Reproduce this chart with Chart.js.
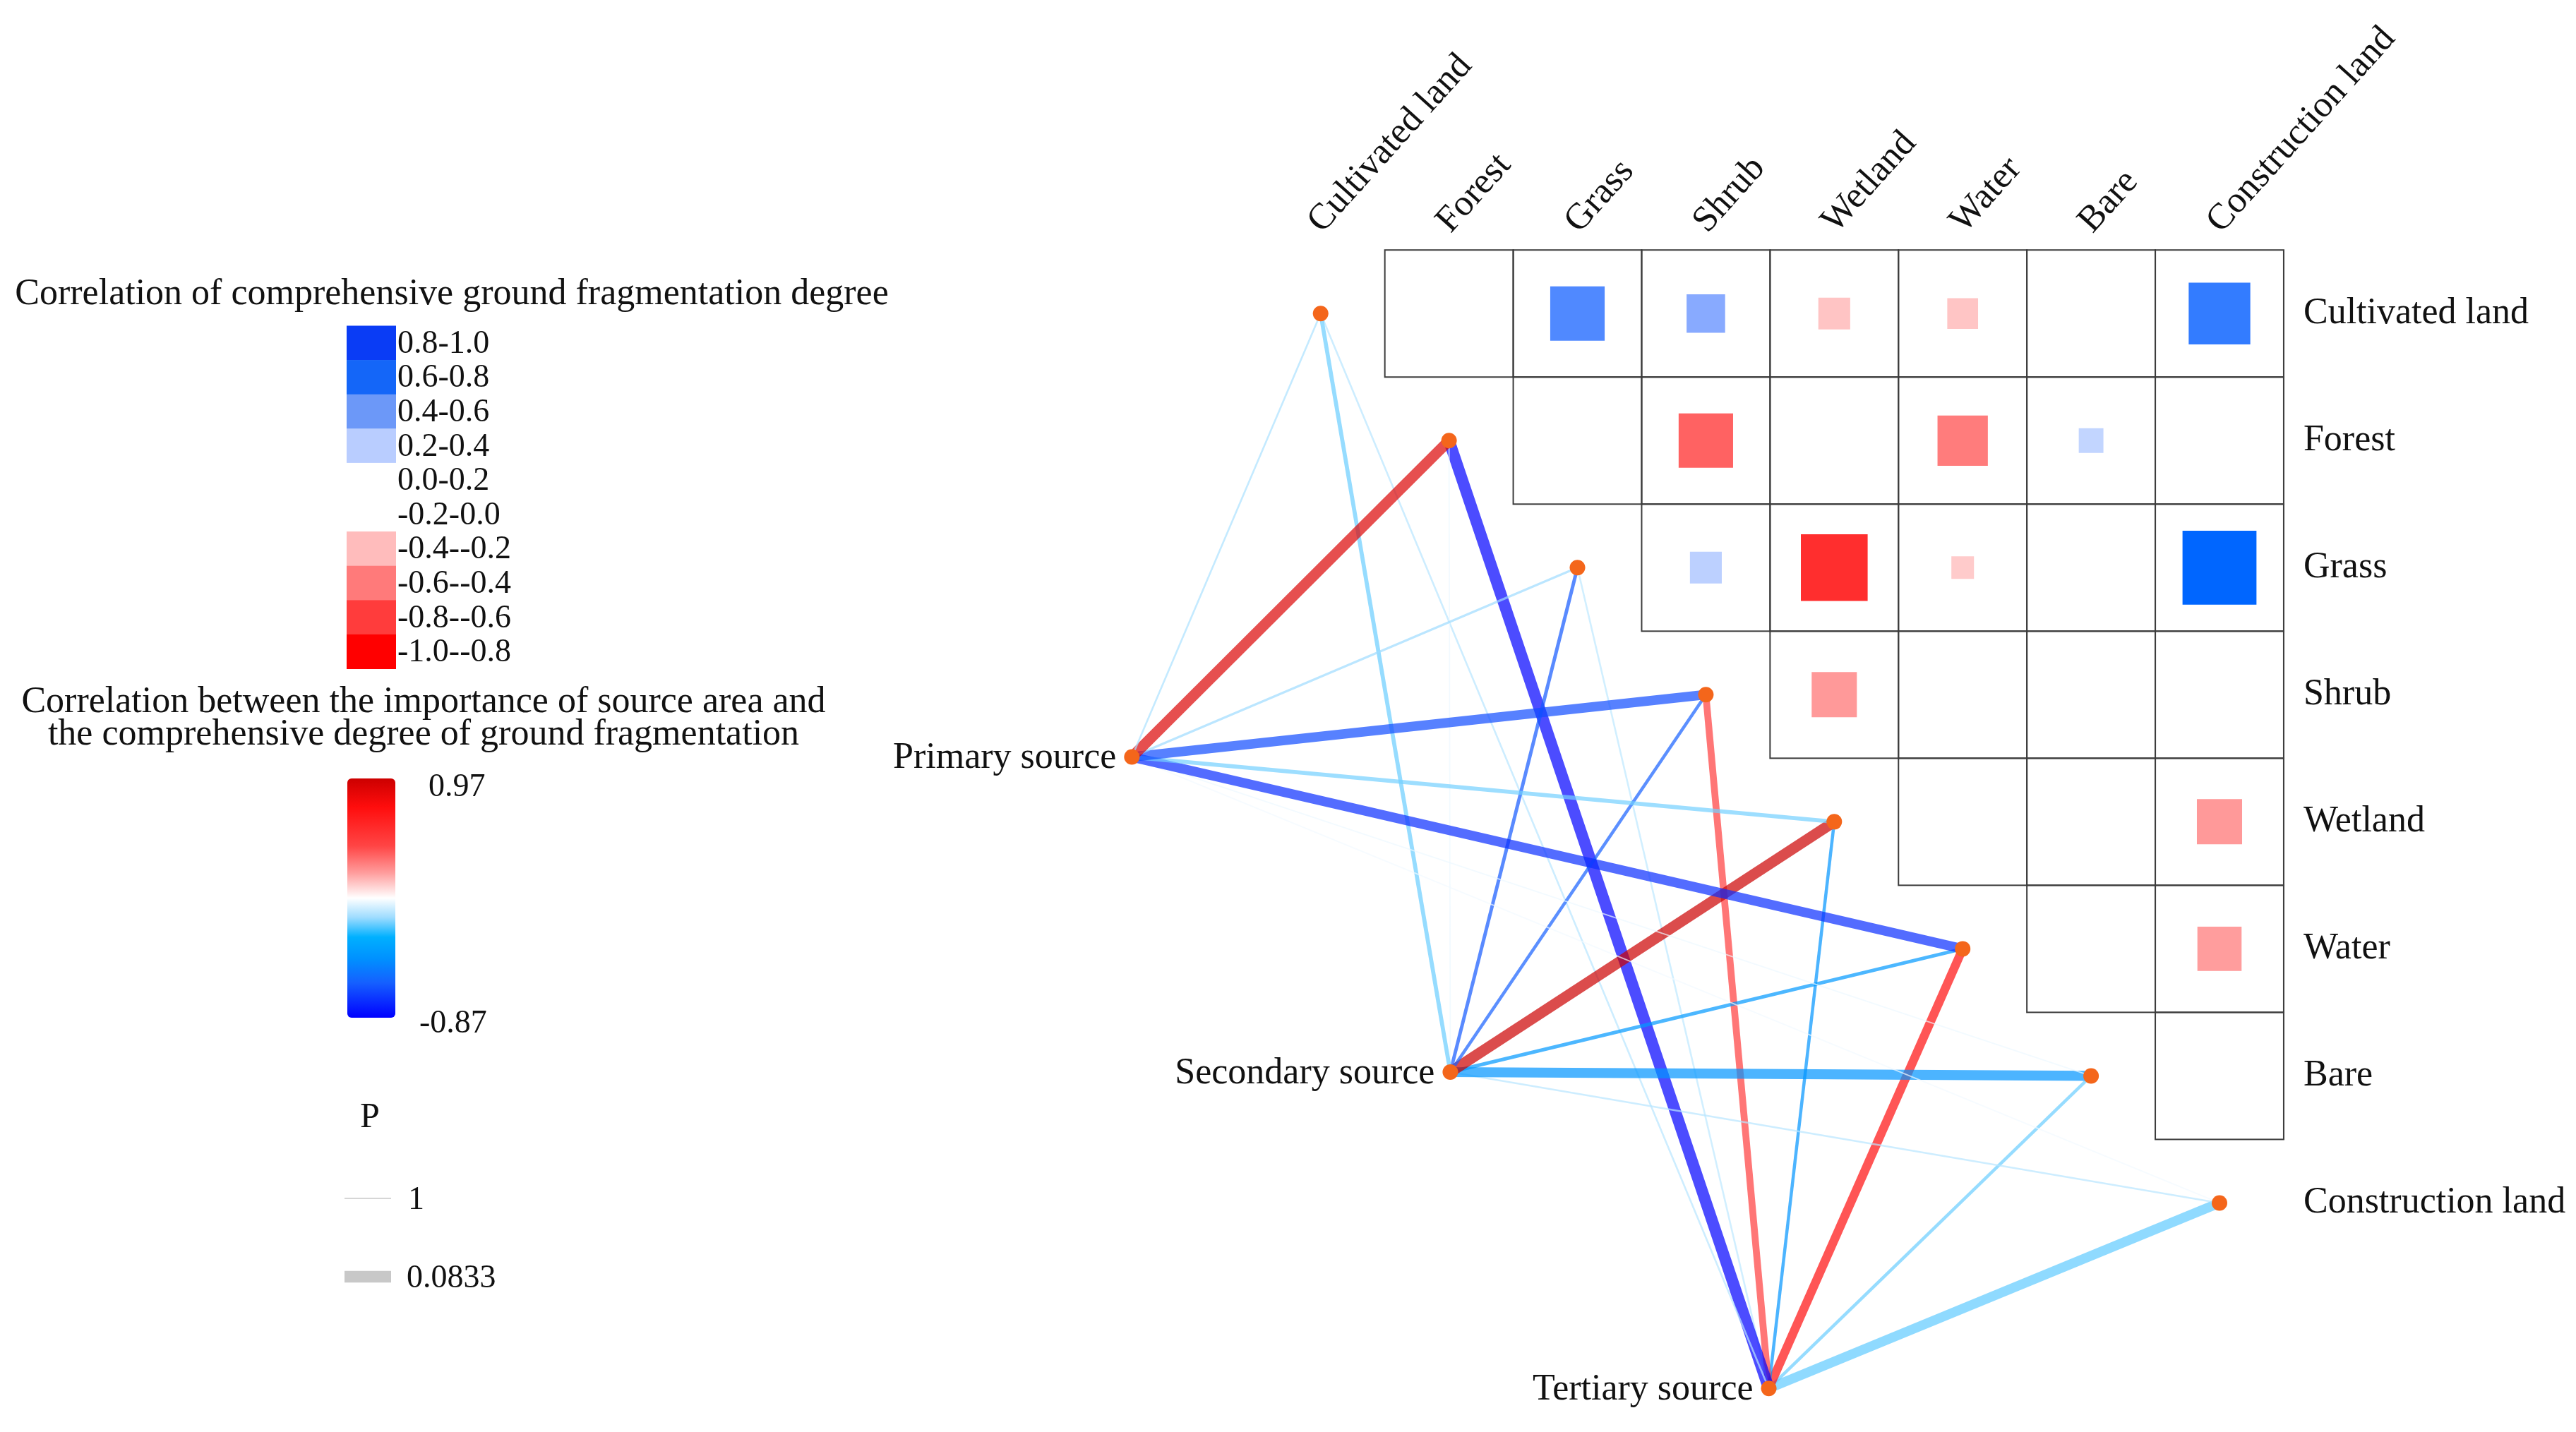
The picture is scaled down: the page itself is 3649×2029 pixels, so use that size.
<!DOCTYPE html>
<html>
<head>
<meta charset="utf-8">
<script src="https://cdn.jsdelivr.net/npm/chart.js@4.4.1/dist/chart.umd.min.js"></script>
<style>
html,body{margin:0;padding:0;background:#fff;overflow:hidden;}
#c{display:block;}
</style>
</head>
<body>
<canvas id="c" width="3649" height="2029" style="width:3649px;height:2029px"></canvas>
<script>
// ---------------- DATA ----------------
const variables = ['Cultivated land','Forest','Grass','Shrub','Wetland','Water','Bare','Construction land'];
// Upper-triangle correlations (row variable vs following columns)
const rCultivated = [0.05, 0.53, 0.375, -0.31, -0.30, 0.10, 0.60];   // Forest..Construction land
const rForest     = [0.12, -0.53, -0.08, -0.49, 0.24, 0.10];         // Grass..Construction land
const rGrass      = [0.31, -0.65, -0.22, -0.05, 0.72];               // Shrub..Construction land
const rShrub      = [-0.44, 0.10, -0.05, 0.12];                      // Wetland..Construction land
const rWetland    = [0.15, 0.08, -0.44];                             // Water..Construction land
const rWater      = [-0.10, -0.43];                                  // Bare..Construction land
const rBare       = [0.10];                                          // Construction land
const matrixRows = [rCultivated, rForest, rGrass, rShrub, rWetland, rWater, rBare];

const sources = ['Primary source','Secondary source','Tertiary source'];
// Links: source vs each variable (order of `variables`)
const rPrimary   = [-0.08, 0.90, -0.10, -0.66, -0.14, -0.74, 0.02, 0.03];
const pPrimary   = [0.95, 0.15, 0.90, 0.25, 0.75, 0.25, 1.00, 1.00];
const rSecondary = [-0.15, 0.02, -0.62, -0.60, 0.97, -0.38, -0.40, -0.06];
const pSecondary = [0.75, 1.00, 0.80, 0.83, 0.15, 0.80, 0.22, 0.95];
const rTertiary  = [-0.06, -0.87, -0.05, 0.50, -0.40, 0.75, -0.15, -0.16];
const pTertiary  = [0.95, 0.0833, 0.95, 0.50, 0.83, 0.33, 0.83, 0.25];
const linkR = [rPrimary, rSecondary, rTertiary];
const linkP = [pPrimary, pSecondary, pTertiary];

const binLabels = ['0.8-1.0','0.6-0.8','0.4-0.6','0.2-0.4','0.0-0.2','-0.2-0.0','-0.4--0.2','-0.6--0.4','-0.8--0.6','-1.0--0.8'];
const binColors = ['#0a3cf5','#1466f8','#6c98f8','#b9cdff','#ffffff','#ffffff','#ffbcbc','#ff7a7a','#ff3c3c','#ff0000'];
const linkRange = [-0.87, 0.97];
const pRange = [1, 0.0833];

// ---------------- STYLE HELPERS ----------------
const FONT = '"Liberation Serif", "DejaVu Serif", serif';
function hex2rgb(h){h=h.replace('#','');return [parseInt(h.substr(0,2),16),parseInt(h.substr(2,2),16),parseInt(h.substr(4,2),16)];}
function interp(anchors, v){
  if (v <= anchors[0][0]) return hex2rgb(anchors[0][1]);
  for (let i=1;i<anchors.length;i++){
    if (v <= anchors[i][0]){
      const a=anchors[i-1], b=anchors[i];
      const t=(v-a[0])/(b[0]-a[0]);
      const ca=hex2rgb(a[1]), cb=hex2rgb(b[1]);
      return ca.map((c,k)=>Math.round(c+(cb[k]-c)*t));
    }
  }
  return hex2rgb(anchors[anchors.length-1][1]);
}
const blueAnch = [[0.2,'#c6d8ff'],[0.31,'#bcd0ff'],[0.375,'#88aaff'],[0.54,'#4c87ff'],[0.72,'#0066ff'],[1.0,'#0040e8']];
const redAnch  = [[0.2,'#ffcccc'],[0.31,'#ffc4c4'],[0.45,'#ff9696'],[0.53,'#ff6262'],[0.65,'#ff2e2e'],[1.0,'#ff0000']];
function squareColor(r){
  const a=Math.abs(r);
  if (a<0.2) return 'rgba(255,255,255,0)';
  const c = r>0 ? interp(blueAnch,a) : interp(redAnch,a);
  return 'rgb('+c.join(',')+')';
}
const lineAnch = [[-0.87,'#0000ff'],[-0.6,'#1560ff'],[-0.42,'#0090ff'],[-0.25,'#00b0ff'],[-0.1,'#9edcff'],[0.05,'#ffffff'],[0.25,'#ff9a9a'],[0.45,'#ff4545'],[0.75,'#ff0d0d'],[0.97,'#cc0000']];
function lineColor(r, alpha){
  const c = interp(lineAnch, r);
  return 'rgba('+c.join(',')+','+alpha+')';
}
function lineWidth(p){
  return 1.8 + (1-p)/(1-0.0833)*14.5;
}

// ---------------- LAYOUT (data coordinates) ----------------
const sourcePos = [{x:-0.47,y:4.49},{x:2.01,y:6.97},{x:4.49,y:9.46}];
const CELL = 183;
const X0 = 1871, Y0 = 438;
const W = 3649, H = 2029;

// ---------------- DATASETS ----------------
const datasets = [];
const nodePts = variables.map((v,i)=>({x:i+1,y:i+1})).concat(sourcePos.map(s=>({x:s.x,y:s.y})));
datasets.push({type:'scatter', data:nodePts, order:0, pointRadius:11, pointHoverRadius:11,
  backgroundColor:'#f4661b', borderWidth:0, clip:false});
const sq = [];
matrixRows.forEach((row,i)=>row.forEach((v,k)=>{ sq.push({x:i+k+2, y:i+1, v:v}); }));
datasets.push({type:'scatter', data:sq, order:1, pointStyle:'rect', clip:false, borderWidth:0,
  backgroundColor: ctx => ctx.raw ? squareColor(ctx.raw.v) : 'transparent',
  pointRadius: ctx => {
    if (!ctx.raw) return 0;
    const s = ctx.chart.scales.x;
    const cellPx = s.getPixelForValue(1) - s.getPixelForValue(0);
    return 0.8*Math.abs(ctx.raw.v)*cellPx/Math.SQRT2;
  },
  pointHoverRadius: 0
});
linkR.forEach((rs,si)=>{
  rs.forEach((r,vi)=>{
    datasets.push({type:'line', order:2, clip:false,
      data:[{x:sourcePos[si].x,y:sourcePos[si].y},{x:vi+1,y:vi+1}],
      borderColor:lineColor(r,0.7), borderWidth:lineWidth(linkP[si][vi]),
      pointRadius:0, fill:false, tension:0});
  });
});

// ---------------- PLUGINS ----------------
const gridPlugin = {
  id:'grid',
  beforeDatasetsDraw(chart){
    const {ctx, scales:{x,y}} = chart;
    ctx.save();
    ctx.strokeStyle='#3c3c3c'; ctx.lineWidth=2;
    matrixRows.forEach((row,i)=>{
      row.forEach((v,k)=>{
        const j=i+k+1;
        const x1=x.getPixelForValue(j+0.5), x2=x.getPixelForValue(j+1.5);
        const y1=y.getPixelForValue(i+0.5), y2=y.getPixelForValue(i+1.5);
        ctx.strokeRect(x1,y1,x2-x1,y2-y1);
      });
    });
    ctx.restore();
  }
};
const textPlugin = {
  id:'texts',
  afterDraw(chart){
    const {ctx, scales:{x,y}} = chart;
    ctx.save();
    ctx.fillStyle='#111';
    ctx.font = '52px '+FONT; ctx.textAlign='left'; ctx.textBaseline='middle';
    variables.forEach((v,i)=>{
      ctx.fillText(v, x.getPixelForValue(8.5)+28, y.getPixelForValue(i+1));
    });
    variables.forEach((v,i)=>{
      ctx.save();
      ctx.translate(x.getPixelForValue(i+1)-8, y.getPixelForValue(0.5)-32);
      ctx.rotate(-48*Math.PI/180);
      ctx.textAlign='left'; ctx.textBaseline='middle';
      ctx.fillText(v,0,0);
      ctx.restore();
    });
    ctx.textAlign='right';
    sources.forEach((s,i)=>{
      ctx.fillText(s, x.getPixelForValue(sourcePos[i].x)-22, y.getPixelForValue(sourcePos[i].y)+2);
    });
    // legend 1
    ctx.textAlign='center';
    ctx.font='52px '+FONT;
    ctx.fillText('Correlation of comprehensive ground fragmentation degree', 640, 417);
    const bx=491, bw=70, by=461.5, bh=48.6;
    binLabels.forEach((l,i)=>{
      ctx.fillStyle=binColors[i];
      ctx.fillRect(bx, by+i*bh, bw, bh+0.5);
      ctx.fillStyle='#111';
      ctx.font='46px '+FONT; ctx.textAlign='left';
      ctx.fillText(l, bx+bw+2, by+i*bh+bh/2+2);
    });
    // legend 2
    ctx.textAlign='center'; ctx.font='52px '+FONT;
    ctx.fillText('Correlation between the importance of source area and', 600, 995);
    ctx.fillText('the comprehensive degree of ground fragmentation', 600, 1041);
    const cx=492, cw=68, cy1=1103, cy2=1442;
    const g = ctx.createLinearGradient(0,cy1,0,cy2);
    const span = linkRange[1]-linkRange[0];
    lineAnch.forEach(a=>{
      const t = (linkRange[1]-a[0])/span;
      g.addColorStop(Math.min(1,Math.max(0,t)), a[1]);
    });
    ctx.fillStyle=g;
    ctx.beginPath();
    if (ctx.roundRect) ctx.roundRect(cx,cy1,cw,cy2-cy1,6); else ctx.rect(cx,cy1,cw,cy2-cy1);
    ctx.fill();
    ctx.fillStyle='#111'; ctx.font='46px '+FONT; ctx.textAlign='left';
    ctx.fillText(linkRange[1].toFixed(2), 607, 1116);
    ctx.fillText(linkRange[0].toFixed(2), 594, 1451);
    // P legend
    ctx.font='50px '+FONT; ctx.textAlign='center';
    ctx.fillText('P', 524, 1584);
    ctx.lineCap='butt';
    ctx.strokeStyle='#d6d6d6'; ctx.lineWidth=lineWidth(pRange[0]);
    ctx.beginPath(); ctx.moveTo(488,1698); ctx.lineTo(554,1698); ctx.stroke();
    ctx.strokeStyle='#c8c8c8'; ctx.lineWidth=lineWidth(pRange[1]);
    ctx.beginPath(); ctx.moveTo(488,1809); ctx.lineTo(554,1809); ctx.stroke();
    ctx.fillStyle='#111'; ctx.font='46px '+FONT; ctx.textAlign='left';
    ctx.fillText(String(pRange[0]), 578, 1701);
    ctx.fillText(String(pRange[1]), 576, 1812);
    ctx.restore();
  }
};

new Chart(document.getElementById('c'), {
  type:'scatter',
  data:{datasets},
  options:{
    responsive:false, animation:false, devicePixelRatio:1,
    layout:{padding:0},
    plugins:{legend:{display:false}, tooltip:{enabled:false}},
    events:[],
    scales:{
      x:{type:'linear', display:false, min:1-X0/CELL, max:1+(W-X0)/CELL},
      y:{type:'linear', display:false, reverse:true, min:1-Y0/182, max:1+(H-Y0)/182}
    }
  },
  plugins:[gridPlugin, textPlugin]
});
</script>
</body>
</html>
